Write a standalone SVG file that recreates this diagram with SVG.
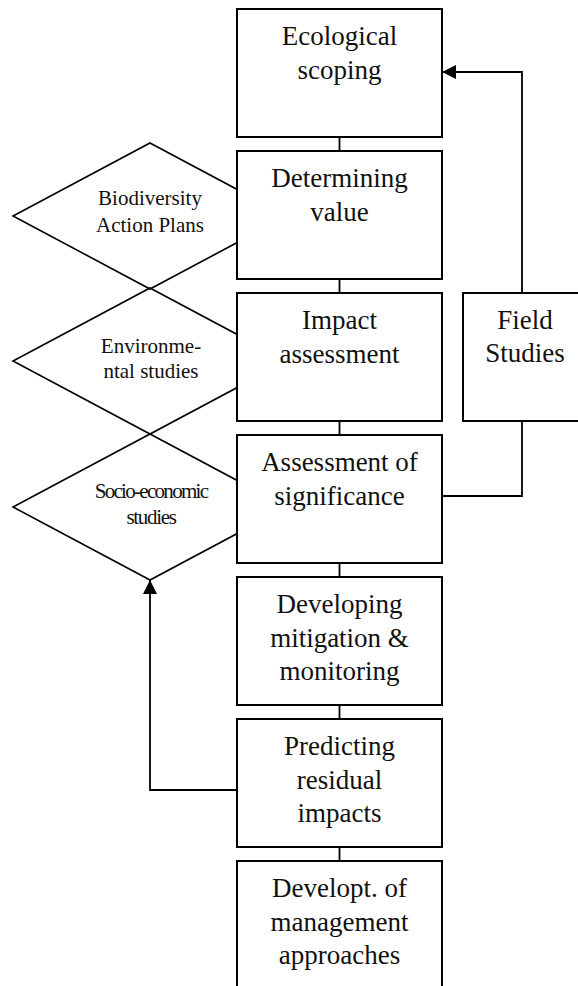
<svg xmlns="http://www.w3.org/2000/svg" width="578" height="986" viewBox="0 0 578 986">
<style>
.box{fill:#fff;stroke:#000;stroke-width:2}
.dia{fill:#fff;stroke:#000;stroke-width:1.6}
.t{font-family:"Liberation Serif","Times New Roman",serif;font-size:27px;fill:#111;text-anchor:middle}
.s{font-family:"Liberation Serif","Times New Roman",serif;font-size:21px;fill:#111;text-anchor:middle}
.c{fill:none;stroke:#000;stroke-width:1.8}
</style>
<defs>
<marker id="ah" viewBox="0 0 14 14" refX="14" refY="7" markerWidth="14" markerHeight="14" markerUnits="userSpaceOnUse" orient="auto">
<path d="M0,0 L14,7 L0,14 Z" fill="#000"/>
</marker>
</defs>
<rect width="578" height="986" fill="#fff"/>
<g id="diamond-biodiversity">
<polygon class="dia" points="150,143 287,216 150,289 13,216"/>
<text class="s" x="150" y="205">Biodiversity</text>
<text class="s" x="150" y="232">Action Plans</text>
</g>
<g id="diamond-environmental">
<polygon class="dia" points="150,288 287,361 150,434 13,361" fill-opacity="0"/>
<text class="s" x="151" y="353">Environme-</text>
<text class="s" x="151" y="378">ntal studies</text>
</g>
<g id="diamond-socio">
<polygon class="dia" points="150,434 287,507 150,580 13,507" fill-opacity="0"/>
<text class="s" x="151" y="498" letter-spacing="-1.7">Socio-economic</text>
<text class="s" x="151" y="524" letter-spacing="-1.3">studies</text>
</g>
<g id="connectors">
<line class="c" x1="339.5" y1="137" x2="339.5" y2="151"/>
<line class="c" x1="339.5" y1="279" x2="339.5" y2="293"/>
<line class="c" x1="339.5" y1="421" x2="339.5" y2="435"/>
<line class="c" x1="339.5" y1="563" x2="339.5" y2="577"/>
<line class="c" x1="339.5" y1="705" x2="339.5" y2="719"/>
<line class="c" x1="339.5" y1="847" x2="339.5" y2="861"/>
<path class="c" d="M522,293 V72 H442" marker-end="url(#ah)"/>
<path class="c" d="M522,421 V496 H442"/>
<path class="c" d="M237,790 H150 V580" marker-end="url(#ah)"/>
</g>
<g id="node-scoping">
<rect class="box" x="237" y="9" width="205" height="128"/>
<text class="t" x="339.5" y="45">Ecological</text>
<text class="t" x="339.5" y="78.5">scoping</text>
</g>
<g id="node-value">
<rect class="box" x="237" y="151" width="205" height="128"/>
<text class="t" x="339.5" y="187">Determining</text>
<text class="t" x="339.5" y="220.5">value</text>
</g>
<g id="node-impact">
<rect class="box" x="237" y="293" width="205" height="128"/>
<text class="t" x="339.5" y="329">Impact</text>
<text class="t" x="339.5" y="362.5">assessment</text>
</g>
<g id="node-significance">
<rect class="box" x="237" y="435" width="205" height="128"/>
<text class="t" x="339.5" y="471">Assessment of</text>
<text class="t" x="339.5" y="504.5">significance</text>
</g>
<g id="node-mitigation">
<rect class="box" x="237" y="577" width="205" height="128"/>
<text class="t" x="339.5" y="613">Developing</text>
<text class="t" x="339.5" y="646.5">mitigation &amp;</text>
<text class="t" x="339.5" y="680">monitoring</text>
</g>
<g id="node-residual">
<rect class="box" x="237" y="719" width="205" height="128"/>
<text class="t" x="339.5" y="755">Predicting</text>
<text class="t" x="339.5" y="788.5">residual</text>
<text class="t" x="339.5" y="822">impacts</text>
</g>
<g id="node-management">
<rect class="box" x="237" y="861" width="205" height="140"/>
<text class="t" x="339.5" y="897">Developt. of</text>
<text class="t" x="339.5" y="930.5">management</text>
<text class="t" x="339.5" y="964">approaches</text>
</g>
<g id="node-field">
<rect class="box" x="463" y="293" width="125" height="128"/>
<text class="t" x="525" y="329">Field</text>
<text class="t" x="525" y="362">Studies</text>
</g>
</svg>
